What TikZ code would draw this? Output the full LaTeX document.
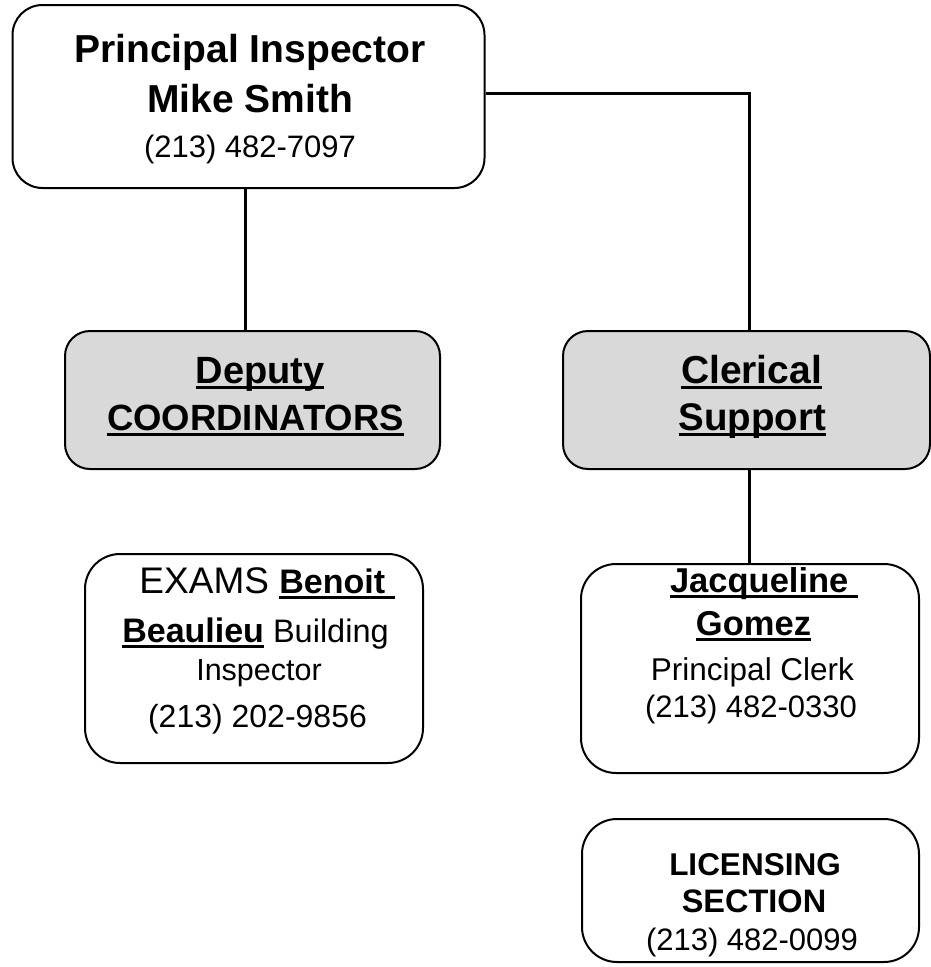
\documentclass[tikz,border=0pt]{standalone}
\usepackage{fontspec}
\setmainfont{Liberation Sans}
\definecolor{boxgray}{RGB}{217,217,217}
\newcommand\ulbar[1]{\setbox0=\hbox{#1}\rlap{\rule[-6pt]{\wd0}{3pt}}\box0}
\newcommand\fs[1]{\fontsize{#1}{#1}\selectfont}
\tikzset{
  orgbox/.style={draw=black, line width=2pt, rectangle, inner sep=0pt},
  graybox/.style={orgbox, fill=boxgray},
  conn/.style={draw=black, line width=3pt},
  txt/.style={anchor=base, inner sep=0pt, text=black}
}
\begin{document}
\begin{tikzpicture}[x=1pt,y=-1pt]
\useasboundingbox[fill=white] (0,0) rectangle (931,967);
% boxes
\node[orgbox, rounded corners=30pt, minimum width=472pt, minimum height=183pt] (top) at (248.5,96.5) {};
\node[graybox, rounded corners=25pt, minimum width=375pt, minimum height=138pt] (dep) at (252.5,400) {};
\node[graybox, rounded corners=25pt, minimum width=367pt, minimum height=138pt] (cler) at (746.5,400) {};
\node[orgbox, rounded corners=35pt, minimum width=338pt, minimum height=209pt] (exams) at (254,658.5) {};
\node[orgbox, rounded corners=35pt, minimum width=338pt, minimum height=209pt] (jac) at (750,668.5) {};
\node[orgbox, rounded corners=35pt, minimum width=337pt, minimum height=143pt] (lic) at (750.5,890.5) {};
% connectors
\draw[conn] ([xshift=-3pt]top.south) -- ([xshift=-3pt]top.south |- dep.north);
\draw[conn] ([yshift=3.5pt]top.east) -| ([xshift=2.5pt]cler.north);
\draw[conn] ([xshift=2.5pt]cler.south) -- ([xshift=2.5pt]cler.south |- jac.north);
% texts: top
\node[txt] (t1) at (250,62) {\fs{39}\bfseries Principal Inspector};
\node[txt] (t2) at (250,112) {\fs{39}\bfseries Mike Smith};
\node[txt] (t3) at (250,157) {\fs{31}(213) 482-7097};
% deputy
\node[txt] (d1) at (260,383) {\fs{38}\bfseries\ulbar{Deputy}};
\node[txt] (d2) at (255.5,430) {\fs{36.5}\bfseries\ulbar{COORDINATORS}};
% clerical
\node[txt] (c1) at (751.5,383) {\fs{39}\bfseries\ulbar{Clerical}};
\node[txt] (c2) at (752.5,430) {\fs{38.5}\bfseries\ulbar{Support}};
% exams
\node[txt] (e1) at (267,593) {\fs{37}EXAMS \fs{34}\bfseries\ulbar{Benoit\ }};
\node[txt] (e2) at (255.5,642) {\fs{34}\bfseries\ulbar{Beaulieu}\fs{32.5}\mdseries\ Building};
\node[txt] (e3) at (259,680) {\fs{30.5}Inspector};
\node[txt] (e4) at (257.5,727) {\fs{32}(213) 202-9856};
% jacqueline
\node[txt] (j1) at (764,592) {\fs{34.5}\bfseries\ulbar{Jacqueline\ }};
\node[txt] (j2) at (753.5,635) {\fs{34.5}\bfseries\ulbar{Gomez}};
\node[txt] (j3) at (752.5,680) {\fs{31.5}Principal Clerk};
\node[txt] (j4) at (751,717) {\fs{31}(213) 482-0330};
% licensing
\node[txt] (l1) at (755,875) {\fs{31.5}\bfseries LICENSING};
\node[txt] (l2) at (754,912) {\fs{32.5}\bfseries SECTION};
\node[txt] (l3) at (752,950) {\fs{31}(213) 482-0099};
\end{tikzpicture}
\end{document}
